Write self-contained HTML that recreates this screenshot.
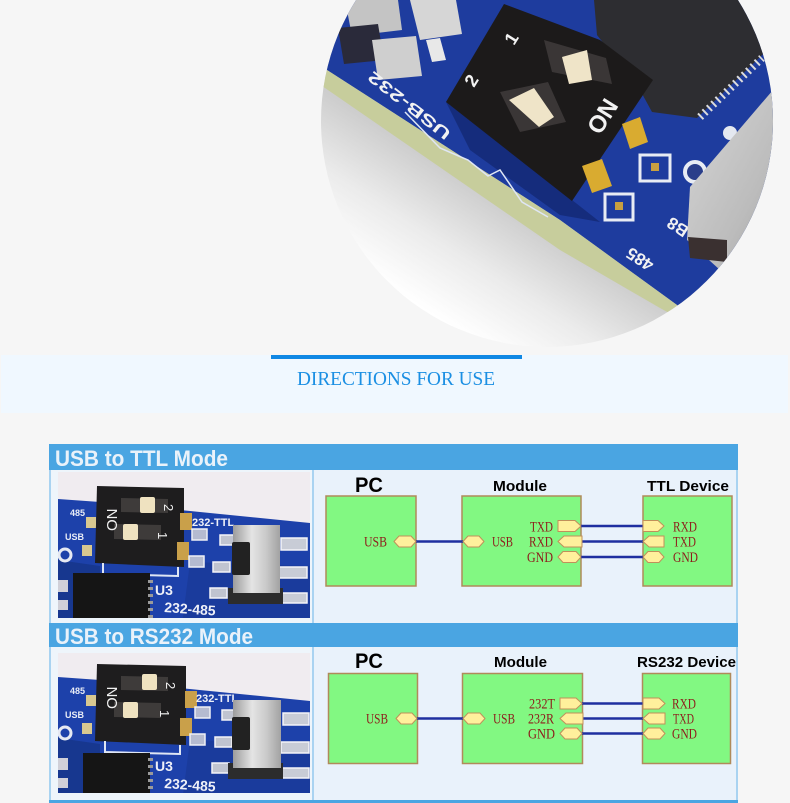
<!DOCTYPE html>
<html><head><meta charset="utf-8"><style>
html,body{margin:0;padding:0;background:#f6f6f6;}
svg{display:block;}
</style></head><body>
<svg width="790" height="803" viewBox="0 0 790 803" xmlns="http://www.w3.org/2000/svg">
<defs>
<clipPath id="cc"><circle cx="547" cy="121" r="226"/></clipPath>
<clipPath id="p1"><rect x="58" y="472" width="252" height="146"/></clipPath>
<clipPath id="p2"><rect x="58" y="653" width="252" height="140"/></clipPath>
<linearGradient id="sh" x1="480" y1="190" x2="410" y2="300" gradientUnits="userSpaceOnUse">
<stop offset="0" stop-color="#cdcdcd"/><stop offset="0.5" stop-color="#ebebeb"/><stop offset="1" stop-color="#ffffff"/>
</linearGradient>
<linearGradient id="sil" x1="0" y1="0" x2="1" y2="0">
<stop offset="0" stop-color="#9c9c9c"/><stop offset="0.4" stop-color="#e4e4e4"/><stop offset="0.7" stop-color="#cacaca"/><stop offset="1" stop-color="#a2a2a2"/>
</linearGradient>
<linearGradient id="sil2" x1="0" y1="0" x2="1" y2="1">
<stop offset="0" stop-color="#d6d6d6"/><stop offset="0.6" stop-color="#bcbcbc"/><stop offset="1" stop-color="#9a9a9a"/>
</linearGradient>
</defs>

<rect x="0" y="0" width="790" height="803" fill="#f6f6f6"/>

<!-- TOP ROUND PHOTO -->
<g clip-path="url(#cc)">
<rect x="300" y="-110" width="500" height="470" fill="url(#sh)"/>
<polygon points="300,-10 800,-10 800,420 677,305 560,220 327,70 300,53" fill="#1e3c9e"/>
<polygon points="446,102 572,200 600,222 560,215 470,150" fill="#152c7c"/>
<polygon points="300,53 327,70 560,220 677,305 700,330 660,308 560,250 325,88 300,73" fill="#c7cd9c"/>
<polyline points="405,112 440,148 468,160 488,176 500,170 522,202 548,217" fill="none" stroke="#dfe6f4" stroke-width="1.5"/>
<!-- top-left components -->
<polygon points="345,0 398,0 402,30 352,36" fill="#c4c4c4"/>
<polygon points="410,0 456,0 462,34 420,40" fill="#d6d6d6"/>
<polygon points="338,28 378,24 384,60 344,64" fill="#2a2a3a"/>
<polygon points="372,40 416,36 422,76 378,80" fill="#cfcfcf"/>
<polygon points="426,40 440,38 446,60 432,62" fill="#e8e8e8"/>
<!-- chip -->
<polygon points="594,0 790,0 790,28 697,118 652,112 640,90 597,35" fill="#2d2d31"/>
<line x1="700" y1="117" x2="762" y2="58" stroke="#dcdcdc" stroke-width="8" stroke-dasharray="2 4"/>
<!-- white rings near silver part -->
<circle cx="695" cy="172" r="10" fill="#2a3e8a" stroke="#e8ecf4" stroke-width="4"/>
<circle cx="730" cy="133" r="7" fill="#e4e8f0"/>
<!-- DIP switch -->
<polygon points="504,4 600,40 653,80 572,201 446,102" fill="#1c1a1a"/>
<polygon points="544,40 606,58 612,84 552,72" fill="#3a3636"/>
<polygon points="562,57 587,50 592,80 569,84" fill="#efe4c8"/>
<polygon points="500,92 548,82 566,122 520,132" fill="#3a3636"/>
<polygon points="509,100 534,88 554,117 539,127" fill="#efe4c8"/>
<text x="0" y="0" transform="translate(600,136) rotate(-58)" font-family="Liberation Sans, sans-serif" font-weight="bold" font-size="24" fill="#f2f2f2">ON</text>
<text x="0" y="0" transform="translate(514,46) rotate(-58)" font-family="Liberation Sans, sans-serif" font-weight="bold" font-size="18" fill="#f2f2f2">1</text>
<text x="0" y="0" transform="translate(474,88) rotate(-58)" font-family="Liberation Sans, sans-serif" font-weight="bold" font-size="18" fill="#f2f2f2">2</text>
<text x="0" y="0" transform="translate(452,132) rotate(218)" font-family="Liberation Sans, sans-serif" font-weight="bold" font-size="16" fill="#f2f2f2" textLength="100" lengthAdjust="spacingAndGlyphs">USB-232</text>
<text x="0" y="0" transform="translate(655,262) rotate(213)" font-family="Liberation Sans, sans-serif" font-weight="bold" font-size="17" fill="#f2f2f2">485</text>
<text x="0" y="0" transform="translate(690,228) rotate(213)" font-family="Liberation Sans, sans-serif" font-weight="bold" font-size="17" fill="#f2f2f2">B8</text>
<!-- gold pins and pads -->
<rect x="640" y="155" width="30" height="26" fill="#1e3c9e" stroke="#e8ecf4" stroke-width="3"/>
<rect x="651" y="163" width="8" height="8" fill="#c8a040"/>
<rect x="605" y="194" width="28" height="26" fill="#1e3c9e" stroke="#e8ecf4" stroke-width="3"/>
<rect x="615" y="202" width="8" height="8" fill="#c8a040"/>
<polygon points="622,124 640,117 648,142 630,149" fill="#d9ab30"/>
<polygon points="582,166 602,159 612,186 592,193" fill="#d9ab30"/>
<!-- right silver component -->
<polygon points="690,187 773,90 790,90 790,280 720,270 687,240" fill="url(#sil2)"/>
<polygon points="688,237 727,240 727,262 690,258" fill="#3a3030"/>
</g>

<!-- DIRECTIONS band -->
<rect x="1" y="355" width="787" height="58" fill="#f0f8ff"/>
<rect x="271" y="355" width="251" height="4" fill="#1088e4"/>
<text x="297" y="385" font-family="Liberation Serif, serif" font-size="20" fill="#1b8fe3" textLength="198" lengthAdjust="spacingAndGlyphs">DIRECTIONS FOR USE</text>

<!-- SECTION 1 -->
<rect x="49" y="444" width="689" height="26" fill="#4aa5e2"/>
<text x="55" y="466" font-family="Liberation Sans, sans-serif" font-weight="bold" font-size="22" fill="#eaf2fa" textLength="173" lengthAdjust="spacingAndGlyphs">USB to TTL Mode</text>
<rect x="49" y="470" width="689" height="153" fill="#a9d3f1"/>
<rect x="51" y="470" width="261" height="153" fill="#eef5fb"/>
<rect x="314" y="470" width="422" height="153" fill="#e9f2fb"/>

<!-- SECTION 2 -->
<rect x="49" y="623" width="689" height="24" fill="#4aa5e2"/>
<text x="55" y="644" font-family="Liberation Sans, sans-serif" font-weight="bold" font-size="22" fill="#eaf2fa" textLength="198" lengthAdjust="spacingAndGlyphs">USB to RS232 Mode</text>
<rect x="49" y="647" width="689" height="153" fill="#a9d3f1"/>
<rect x="51" y="647" width="261" height="153" fill="#eef5fb"/>
<rect x="314" y="647" width="422" height="153" fill="#e9f2fb"/>
<rect x="49" y="800" width="689" height="3" fill="#4aa5e2"/>

<!-- PHOTO 1 -->
<g clip-path="url(#p1)">
<g>
<rect x="58" y="440" width="252" height="200" fill="#f0ecf0"/>
<polygon points="58,499 100,502 310,523 310,640 58,640" fill="#1d41aa"/>
<polygon points="58,560 100,566 100,640 58,640" fill="#17378f"/>
<polygon points="190,562 310,566 310,640 180,640" fill="#1a3b9c"/>
<circle cx="65" cy="555" r="6" fill="#1d41aa" stroke="#e6e9f2" stroke-width="3"/>
<rect x="58" y="580" width="10" height="12" fill="#d0d0d8"/>
<rect x="58" y="600" width="10" height="10" fill="#d0d0d8"/>
<rect x="86" y="517" width="10" height="11" fill="#d8c890"/>
<rect x="82" y="545" width="10" height="11" fill="#d8c890"/>
<text x="70" y="516" font-family="Liberation Sans, sans-serif" font-weight="bold" font-size="9" fill="#e8ecf6">485</text>
<text x="65" y="540" font-family="Liberation Sans, sans-serif" font-weight="bold" font-size="9" fill="#e8ecf6">USB</text>
<polygon points="97,486 184,488 184,567 95,563" fill="#1e1d1e"/>
<polygon points="121,498 168,499 168,513 121,512" fill="#3e3b3a"/>
<rect x="140" y="497" width="15" height="16" rx="2" fill="#efe2c0"/>
<polygon points="114,524 161,525 161,540 114,539" fill="#3e3b3a"/>
<rect x="123" y="524" width="15" height="16" rx="2" fill="#efe2c0"/>
<text x="0" y="0" transform="translate(117,531) rotate(-90)" font-family="Liberation Sans, sans-serif" font-size="15" fill="#f0f0f0">ON</text>
<text x="0" y="0" transform="translate(164,504) rotate(90)" font-family="Liberation Sans, sans-serif" font-size="13" fill="#f0f0f0">2</text>
<text x="0" y="0" transform="translate(158,532) rotate(90)" font-family="Liberation Sans, sans-serif" font-size="13" fill="#f0f0f0">1</text>
<polyline points="103,563 103,574 178,576 178,567" fill="none" stroke="#dfe6f4" stroke-width="2"/>
<rect x="180" y="513" width="12" height="17" fill="#c9a04a"/>
<rect x="177" y="542" width="12" height="18" fill="#c9a04a"/>
<rect x="192" y="529" width="15" height="11" fill="#b5bbd0" stroke="#eef0f6" stroke-width="1.5"/>
<rect x="189" y="556" width="15" height="11" fill="#b5bbd0" stroke="#eef0f6" stroke-width="1.5"/>
<text x="192" y="526" font-family="Liberation Sans, sans-serif" font-weight="bold" font-size="11" fill="#eef0f8">232-TTL</text>
<rect x="73" y="573" width="77" height="50" fill="#151515"/>
<g fill="#9a9a9a"><rect x="148" y="580" width="5" height="3"/><rect x="148" y="587" width="5" height="3"/><rect x="148" y="594" width="5" height="3"/><rect x="148" y="601" width="5" height="3"/><rect x="148" y="608" width="5" height="3"/><rect x="148" y="615" width="5" height="3"/></g>
<text x="155" y="595" font-family="Liberation Sans, sans-serif" font-weight="bold" font-size="14" fill="#eef0f8">U3</text>
<text x="164" y="612" transform="rotate(4 164 612)" font-family="Liberation Sans, sans-serif" font-weight="bold" font-size="14" fill="#eef0f8">232-485</text>
<rect x="220" y="535" width="17" height="10" fill="#c0c4d0" stroke="#f4f4f8" stroke-width="1.5"/>
<rect x="213" y="562" width="17" height="10" fill="#c0c4d0" stroke="#f4f4f8" stroke-width="1.5"/>
<rect x="210" y="588" width="17" height="10" fill="#c0c4d0" stroke="#f4f4f8" stroke-width="1.5"/>
<rect x="281" y="538" width="26" height="12" fill="#c8ccd6" stroke="#f4f4f8" stroke-width="1.5"/>
<rect x="279" y="567" width="28" height="11" fill="#c8ccd6" stroke="#f4f4f8" stroke-width="1.5"/>
<rect x="279" y="593" width="28" height="10" fill="#c8ccd6" stroke="#f4f4f8" stroke-width="1.5"/>
<rect x="228" y="588" width="55" height="16" fill="#2c2c2c"/>
<rect x="233" y="525" width="47" height="68" fill="url(#sil)"/>
<rect x="232" y="542" width="18" height="33" rx="2" fill="#222222"/>
</g>
</g>

<!-- PHOTO 2 -->
<g clip-path="url(#p2)">
<g transform="translate(0,178)">
<rect x="58" y="440" width="252" height="200" fill="#f0ecf0"/>
<polygon points="58,499 100,502 310,523 310,640 58,640" fill="#1d41aa"/>
<polygon points="58,560 100,566 100,640 58,640" fill="#17378f"/>
<polygon points="190,562 310,566 310,640 180,640" fill="#1a3b9c"/>
<circle cx="65" cy="555" r="6" fill="#1d41aa" stroke="#e6e9f2" stroke-width="3"/>
<rect x="58" y="580" width="10" height="12" fill="#d0d0d8"/>
<rect x="58" y="600" width="10" height="10" fill="#d0d0d8"/>
<rect x="86" y="517" width="10" height="11" fill="#d8c890"/>
<rect x="82" y="545" width="10" height="11" fill="#d8c890"/>
<text x="70" y="516" font-family="Liberation Sans, sans-serif" font-weight="bold" font-size="9" fill="#e8ecf6">485</text>
<text x="65" y="540" font-family="Liberation Sans, sans-serif" font-weight="bold" font-size="9" fill="#e8ecf6">USB</text>
<polygon points="97,486 186,488 186,567 95,563" fill="#1e1d1e"/>
<polygon points="121,498 168,499 168,513 121,512" fill="#3e3b3a"/>
<rect x="142" y="496" width="15" height="16" rx="2" fill="#efe2c0"/>
<polygon points="114,524 161,525 161,540 114,539" fill="#3e3b3a"/>
<rect x="123" y="524" width="15" height="16" rx="2" fill="#efe2c0"/>
<text x="0" y="0" transform="translate(117,531) rotate(-90)" font-family="Liberation Sans, sans-serif" font-size="15" fill="#f0f0f0">ON</text>
<text x="0" y="0" transform="translate(166,504) rotate(90)" font-family="Liberation Sans, sans-serif" font-size="13" fill="#f0f0f0">2</text>
<text x="0" y="0" transform="translate(160,532) rotate(90)" font-family="Liberation Sans, sans-serif" font-size="13" fill="#f0f0f0">1</text>
<polyline points="105,563 105,574 180,576 180,567" fill="none" stroke="#dfe6f4" stroke-width="2"/>
<rect x="185" y="513" width="12" height="17" fill="#c9a04a"/>
<rect x="180" y="540" width="12" height="18" fill="#c9a04a"/>
<rect x="195" y="529" width="15" height="11" fill="#b5bbd0" stroke="#eef0f6" stroke-width="1.5"/>
<rect x="190" y="556" width="15" height="11" fill="#b5bbd0" stroke="#eef0f6" stroke-width="1.5"/>
<text x="196" y="524" font-family="Liberation Sans, sans-serif" font-weight="bold" font-size="11" fill="#eef0f8">232-TTL</text>
<rect x="83" y="575" width="67" height="50" fill="#151515"/>
<g fill="#9a9a9a"><rect x="148" y="580" width="5" height="3"/><rect x="148" y="587" width="5" height="3"/><rect x="148" y="594" width="5" height="3"/><rect x="148" y="601" width="5" height="3"/><rect x="148" y="608" width="5" height="3"/></g>
<text x="155" y="593" font-family="Liberation Sans, sans-serif" font-weight="bold" font-size="14" fill="#eef0f8">U3</text>
<text x="164" y="610" transform="rotate(4 164 610)" font-family="Liberation Sans, sans-serif" font-weight="bold" font-size="14" fill="#eef0f8">232-485</text>
<rect x="222" y="532" width="17" height="10" fill="#c0c4d0" stroke="#f4f4f8" stroke-width="1.5"/>
<rect x="215" y="559" width="17" height="10" fill="#c0c4d0" stroke="#f4f4f8" stroke-width="1.5"/>
<rect x="212" y="585" width="17" height="10" fill="#c0c4d0" stroke="#f4f4f8" stroke-width="1.5"/>
<rect x="283" y="535" width="26" height="12" fill="#c8ccd6" stroke="#f4f4f8" stroke-width="1.5"/>
<rect x="281" y="564" width="28" height="11" fill="#c8ccd6" stroke="#f4f4f8" stroke-width="1.5"/>
<rect x="281" y="590" width="28" height="10" fill="#c8ccd6" stroke="#f4f4f8" stroke-width="1.5"/>
<rect x="228" y="585" width="55" height="16" fill="#2c2c2c"/>
<rect x="233" y="522" width="48" height="68" fill="url(#sil)"/>
<rect x="232" y="539" width="18" height="33" rx="2" fill="#222222"/>
</g>
</g>

<!-- DIAGRAM 1 -->
<g font-family="Liberation Sans, sans-serif" font-weight="bold" fill="#000">
<text x="355" y="492" font-size="21" textLength="28" lengthAdjust="spacingAndGlyphs">PC</text>
<text x="493" y="491" font-size="15" textLength="54" lengthAdjust="spacingAndGlyphs">Module</text>
<text x="647" y="491" font-size="15" textLength="82" lengthAdjust="spacingAndGlyphs">TTL Device</text>
</g>
<g fill="#82f882" stroke="#b08a5a" stroke-width="1.5">
<rect x="326" y="496" width="90" height="90"/>
<rect x="462" y="496" width="119" height="90"/>
<rect x="643" y="496" width="89" height="90"/>
</g>
<g stroke="#1f2fa0" stroke-width="2.5">
<line x1="416" y1="541.5" x2="463" y2="541.5"/>
<line x1="581" y1="526" x2="643" y2="526"/>
<line x1="582" y1="541.5" x2="643" y2="541.5"/>
<line x1="581" y1="557" x2="643" y2="557"/>
</g>
<g fill="#fff09c" stroke="#c0905a" stroke-width="1">
<polygon points="394,541.5 399,536 411,536 416,541.5 411,547 399,547"/>
<polygon points="463,541.5 468,536 479,536 484,541.5 479,547 468,547"/>
<polygon points="558,520.5 575,520.5 581,526 575,531.5 558,531.5"/>
<polygon points="558,541.5 564,536 582,536 582,547 564,547"/>
<polygon points="558,557 563,551.5 576,551.5 581,557 576,562.5 563,562.5"/>
<polygon points="643,520.5 658,520.5 664,526 658,531.5 643,531.5"/>
<polygon points="643,541.5 649,536 664,536 664,547 649,547"/>
<polygon points="643,557 648,551.5 659,551.5 664,557 659,562.5 648,562.5"/>
</g>
<g font-family="Liberation Serif, serif" font-size="15" fill="#8e1b1b">
<text x="364" y="546.5" textLength="23" lengthAdjust="spacingAndGlyphs">USB</text>
<text x="492" y="546.5" textLength="21" lengthAdjust="spacingAndGlyphs">USB</text>
<text x="530" y="531.5" textLength="23" lengthAdjust="spacingAndGlyphs">TXD</text>
<text x="529" y="546.5" textLength="24" lengthAdjust="spacingAndGlyphs">RXD</text>
<text x="527" y="562" textLength="26" lengthAdjust="spacingAndGlyphs">GND</text>
<text x="673" y="531.5" textLength="24" lengthAdjust="spacingAndGlyphs">RXD</text>
<text x="673" y="546.5" textLength="23" lengthAdjust="spacingAndGlyphs">TXD</text>
<text x="673" y="562" textLength="25" lengthAdjust="spacingAndGlyphs">GND</text>
</g>

<!-- DIAGRAM 2 -->
<g font-family="Liberation Sans, sans-serif" font-weight="bold" fill="#000">
<text x="355" y="668" font-size="21" textLength="28" lengthAdjust="spacingAndGlyphs">PC</text>
<text x="494" y="667" font-size="15" textLength="53" lengthAdjust="spacingAndGlyphs">Module</text>
<text x="637" y="667" font-size="15" textLength="99" lengthAdjust="spacingAndGlyphs">RS232 Device</text>
</g>
<g fill="#82f882" stroke="#b08a5a" stroke-width="1.5">
<rect x="328.5" y="673.5" width="89" height="90"/>
<rect x="462.5" y="673.5" width="120" height="90"/>
<rect x="642.5" y="673.5" width="88" height="90"/>
</g>
<g stroke="#1f2fa0" stroke-width="2.5">
<line x1="417" y1="718.5" x2="463" y2="718.5"/>
<line x1="582" y1="703.5" x2="643" y2="703.5"/>
<line x1="583" y1="718.5" x2="643" y2="718.5"/>
<line x1="582" y1="733.5" x2="643" y2="733.5"/>
</g>
<g fill="#fff09c" stroke="#c0905a" stroke-width="1">
<polygon points="396,718.5 401,713 412,713 417,718.5 412,724 401,724"/>
<polygon points="463,718.5 468,713 480,713 485,718.5 480,724 468,724"/>
<polygon points="560,698 576,698 582,703.5 576,709 560,709"/>
<polygon points="560,718.5 566,713 583,713 583,724 566,724"/>
<polygon points="560,733.5 565,728 577,728 582,733.5 577,739 565,739"/>
<polygon points="643,698 659,698 665,703.5 659,709 643,709"/>
<polygon points="643,718.5 649,713 665,713 665,724 649,724"/>
<polygon points="643,733.5 648,728 660,728 665,733.5 660,739 648,739"/>
</g>
<g font-family="Liberation Serif, serif" font-size="15" fill="#8e1b1b">
<text x="366" y="723.5" textLength="22" lengthAdjust="spacingAndGlyphs">USB</text>
<text x="493" y="723.5" textLength="22" lengthAdjust="spacingAndGlyphs">USB</text>
<text x="529" y="708.5" textLength="26" lengthAdjust="spacingAndGlyphs">232T</text>
<text x="528" y="723.5" textLength="26" lengthAdjust="spacingAndGlyphs">232R</text>
<text x="528" y="738.5" textLength="27" lengthAdjust="spacingAndGlyphs">GND</text>
<text x="672" y="708.5" textLength="24" lengthAdjust="spacingAndGlyphs">RXD</text>
<text x="673" y="723.5" textLength="21" lengthAdjust="spacingAndGlyphs">TXD</text>
<text x="672" y="738.5" textLength="25" lengthAdjust="spacingAndGlyphs">GND</text>
</g>
</svg>
</body></html>
